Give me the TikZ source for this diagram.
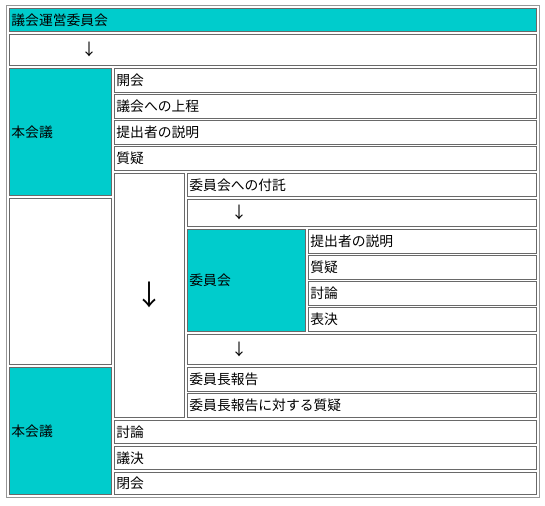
\documentclass[tikz,border=0pt]{standalone}
\usepackage{fontspec}
\setmainfont{Noto Sans CJK JP}
\usetikzlibrary{positioning}
\usepackage{xcolor}

\definecolor{hdcyan}{RGB}{0,204,204}
\definecolor{cellline}{RGB}{105,105,105}

\tikzset{
  cell/.style 2 args={draw=cellline, line width=0.8pt, anchor=north west, inner xsep=2pt, inner ysep=0pt,
    text width=#1, minimum height=#2, align=left, font=\fontsize{13.8}{15}\selectfont},
  hd/.style={fill=hdcyan},
  arr/.style={inner sep=0pt, font=\fontsize{16}{16}\selectfont},
  bigarr/.style={inner sep=0pt, font=\fontsize{28}{28}\selectfont},
}

\begin{document}
\begin{tikzpicture}[x=1pt,y=-1pt]

\useasboundingbox[fill=white] (0,0) rectangle (545,505);
\node[draw=cellline!70, line width=0.8pt, anchor=north west, minimum width=533pt, minimum height=492pt, inner sep=0pt] (tbl) at (6,5) {};

% top rows
\node[cell={523pt}{23pt}, hd] (unei) at (9,8) {議会運営委員会};
\node[cell={523pt}{31pt}] (row1) at (9,34) {};
\node[arr] (a1) at ([xshift=80pt]row1.west) {↓};

% plenary, first part
\node[cell={98pt}{127pt}, hd] (honA) at (9,68) {本会議};
\node[cell={418pt}{24pt}] (kaikai) at (114,68) {開会};
\node[cell={418pt}{24pt}] (jotei) at (114,94) {議会への上程};
\node[cell={418pt}{24pt}] (setsumeiA) at (114,120) {提出者の説明};
\node[cell={418pt}{24pt}] (shitsugiA) at (114,146) {質疑};

% committee
\node[cell={98pt}{166pt}] (blank) at (9,198) {};
\node[cell={66pt}{244pt}] (row2) at (114,173) {};
\node[bigarr] (a2) at (row2.center) {↓};
\node[cell={345pt}{23pt}] (futaku) at (187,173) {委員会への付託};
\node[cell={345pt}{27pt}] (row3) at (187,199) {};
\node[arr] (a3) at ([xshift=52pt]row3.west) {↓};
\node[cell={114pt}{102pt}, hd] (iinkai) at (187,229) {委員会};
\node[cell={224pt}{24pt}] (setsumeiB) at (308,229) {提出者の説明};
\node[cell={224pt}{24pt}] (shitsugiB) at (308,255) {質疑};
\node[cell={224pt}{24pt}] (touronB) at (308,281) {討論};
\node[cell={224pt}{24pt}] (hyoketsu) at (308,307) {表決};
\node[cell={345pt}{30pt}] (row4) at (187,334) {};
\node[arr] (a4) at ([xshift=52pt]row4.west) {↓};

% plenary, second part
\node[cell={98pt}{127pt}, hd] (honB) at (9,367) {本会議};
\node[cell={345pt}{24pt}] (houkoku) at (187,367) {委員長報告};
\node[cell={345pt}{24pt}] (houkokuQ) at (187,393) {委員長報告に対する質疑};
\node[cell={418pt}{23pt}] (touronA) at (114,420) {討論};
\node[cell={418pt}{23pt}] (giketsu) at (114,446) {議決};
\node[cell={418pt}{22pt}] (heikai) at (114,472) {閉会};

\end{tikzpicture}
\end{document}
